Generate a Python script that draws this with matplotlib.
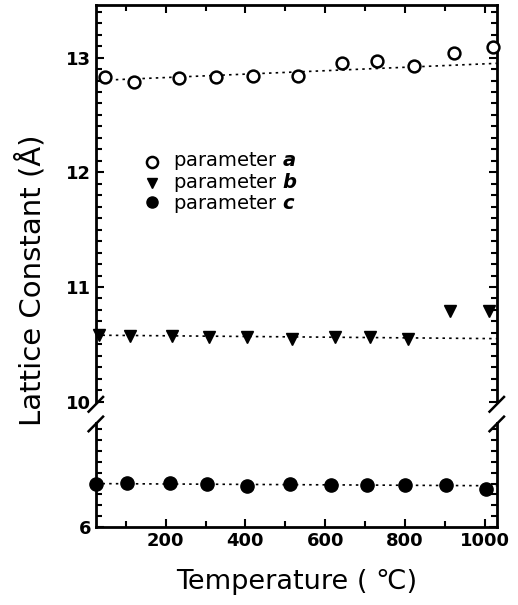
import matplotlib
matplotlib.use('Agg')
import matplotlib.pyplot as plt
from matplotlib.ticker import MultipleLocator
import numpy as np

plt.rcParams['font.family'] = ['DejaVu Sans']
plt.rcParams['mathtext.fontset'] = 'dejavusans'

# data
temp_a = [47, 120, 233, 325, 418, 531, 641, 731, 822, 922, 1020]
par_a = [12.83, 12.79, 12.82, 12.83, 12.84, 12.84, 12.95, 12.97, 12.93, 13.04, 13.09]
temp_b = [33, 110, 215, 308, 405, 516, 624, 711, 807, 912, 1010]
par_b = [10.58, 10.57, 10.57, 10.56, 10.56, 10.55, 10.56, 10.56, 10.55, 10.79, 10.79]
temp_c = [25, 102, 212, 303, 403, 511, 614, 704, 801, 904, 1004]
par_c = [6.40, 6.41, 6.41, 6.40, 6.38, 6.40, 6.39, 6.39, 6.39, 6.39, 6.35]

# dotted guide lines (end points)
fit_x = [25, 1030]
fit_a = [12.80, 12.95]
fit_b = [10.58, 10.55]
fit_c = [6.40, 6.38]

xticks = [200, 400, 600, 800, 1000]
legend_names = ['a', 'b', 'c']

fig = plt.figure(figsize=(5.18, 6.05), dpi=100)
ax1 = fig.add_axes([0.185, 0.336, 0.774, 0.656])
ax2 = fig.add_axes([0.185, 0.129, 0.774, 0.172])

lw = 2.0
for ax in (ax1, ax2):
    ax.set_xlim(25, 1030)
    for s in ax.spines.values():
        s.set_linewidth(lw)
    ax.tick_params(which='both', direction='in', width=1.5, right=True, top=True,
                   labelsize=13)
    ax.tick_params(which='major', length=6)
    ax.tick_params(which='minor', length=4)
    ax.xaxis.set_major_locator(MultipleLocator(200))
    ax.xaxis.set_minor_locator(MultipleLocator(100))
    ax.yaxis.set_minor_locator(MultipleLocator(0.1))

ax1.set_ylim(10, 13.46)
ax1.set_yticks([10, 11, 12, 13])
ax1.set_yticklabels(['10', '11', '12', '13'], fontweight='bold')
ax1.spines['bottom'].set_visible(False)
ax1.tick_params(which='both', bottom=False, labelbottom=False)

ax2.set_ylim(6, 6.96)
ax2.set_yticks([6])
ax2.set_yticklabels(['6'], fontweight='bold')
ax2.spines['top'].set_visible(False)
ax2.tick_params(which='both', top=False)
ax2.set_xticks(xticks)
ax2.set_xticklabels([str(t) for t in xticks], fontweight='bold')

dot = dict(color='black', linestyle=(0, (1.5, 2.5)), linewidth=1.2)
ax1.plot(fit_x, fit_a, **dot)
ax1.plot(fit_x, fit_b, **dot)
ax2.plot(fit_x, fit_c, **dot)

ax1.plot(temp_a, par_a, 'o', ms=8.5, mfc='white', mec='black', mew=1.8, clip_on=False, zorder=5)
ax1.plot(temp_b, par_b, 'v', ms=8, color='black', clip_on=False, zorder=5)
ax2.plot(temp_c, par_c, 'o', ms=9.5, color='black', clip_on=False, zorder=5)

# legend
leg_x = 0.14
leg_y = [0.605, 0.552, 0.502]
ax1.plot([leg_x], [leg_y[0]], 'o', ms=8, mfc='white', mec='black', mew=1.8, transform=ax1.transAxes)
ax1.plot([leg_x], [leg_y[1]], 'v', ms=7.5, color='black', transform=ax1.transAxes)
ax1.plot([leg_x], [leg_y[2]], 'o', ms=8, color='black', transform=ax1.transAxes)
leg_text = '\n'.join('parameter $\\boldsymbol{' + p + '}$' for p in legend_names)
ax1.text(0.192, leg_y[1], leg_text, fontsize=14, linespacing=0.96,
         va='center', ha='left', transform=ax1.transAxes)

# break marks
kw = dict(color='black', lw=1.8, clip_on=False)
for xx in (0, 1):
    ax1.plot([xx - 0.018, xx + 0.018], [-0.025, 0.012], transform=ax1.transAxes, **kw)
    ax2.plot([xx - 0.018, xx + 0.018], [0.92, 1.06], transform=ax2.transAxes, **kw)

ax2.set_xlabel('Temperature ( \u2103)', fontsize=19.5, labelpad=14)
fig.text(0.06, 0.536, 'Lattice Constant (\u00c5)', rotation=90, fontsize=21,
         va='center', ha='center')

plt.savefig('out.png', dpi=100)
